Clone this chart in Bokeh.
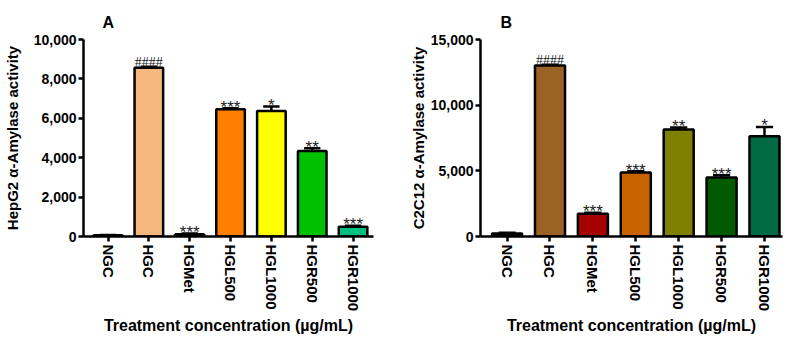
import numpy as np
from bokeh.plotting import figure
from bokeh.layouts import row
from bokeh.models import FixedTicker, NumeralTickFormatter, Range1d, ColumnDataSource
from bokeh.embed import file_html
from bokeh.resources import INLINE
from bokeh.core.properties import value

# Treatment groups shared by both cell lines
groups = ["NGC", "HGC", "HGMet", "HGL500", "HGL1000", "HGR500", "HGR1000"]

# HepG2 alpha-amylase activity (mean, SEM, significance marks)
hepg2_mean = [60, 8560, 120, 6460, 6370, 4340, 500]
hepg2_sem = [20, 60, 30, 50, 230, 140, 40]
hepg2_marks = ["", "####", "***", "***", "*", "**", "***"]
hepg2_colors = ["#000000", "#F5B77E", "#000000", "#FF7F00", "#FFFF00", "#00C000", "#00C080"]
hepg2_ticks = [0, 2000, 4000, 6000, 8000, 10000]

# C2C12 alpha-amylase activity
c2c12_mean = [230, 13020, 1740, 4880, 8140, 4500, 7640]
c2c12_sem = [60, 50, 70, 80, 150, 170, 700]
c2c12_marks = ["", "####", "***", "***", "**", "***", "*"]
c2c12_colors = ["#000000", "#9A6325", "#A60000", "#C86400", "#808000", "#005A00", "#006B45"]
c2c12_ticks = [0, 5000, 10000, 15000]

FONT = "Liberation Sans"


def panel(letter, ylabel, means, sems, marks, colors, yticks,
          border_left, border_right, xr, label_standoff, title_offset):
    x = np.arange(len(groups))
    means = np.array(means, dtype=float)
    sems = np.array(sems, dtype=float)
    tops = means + sems
    ymax = yticks[-1]

    p = figure(width=395, height=337, output_backend="svg", toolbar_location=None,
               x_range=Range1d(*xr), y_range=Range1d(0, ymax),
               min_border_left=border_left, min_border_right=border_right,
               min_border_top=39, min_border_bottom=99)
    p.outline_line_color = None
    p.xgrid.grid_line_color = None
    p.ygrid.grid_line_color = None

    # panel letter
    p.title.text = letter
    p.title.align = "left"
    p.title.offset = title_offset
    p.title.standoff = 18
    p.title.text_font = FONT
    p.title.text_font_size = "16px"
    p.title.text_font_style = "bold"
    p.title.text_color = "black"

    src = ColumnDataSource(dict(x=x, top=means, hi=tops, color=colors))
    # error bars (upper half only) drawn beneath the bars
    p.segment(x0="x", y0="top", x1="x", y1="hi", source=src, line_color="black", line_width=2.5)
    p.segment(x0=x - 0.2, y0=tops, x1=x + 0.2, y1=tops, line_color="black", line_width=2.5)
    p.vbar(x="x", top="top", bottom=0, width=0.7, source=src,
           fill_color="color", line_color="black", line_width=2.5)

    star_idx = [i for i, m in enumerate(marks) if m.startswith("*")]
    hash_idx = [i for i, m in enumerate(marks) if m.startswith("#")]
    p.text(x=[x[i] for i in star_idx], y=[tops[i] for i in star_idx],
           text=[marks[i] for i in star_idx], text_align="center",
           text_baseline="alphabetic", y_offset=-1,
           text_font=value(FONT), text_font_size="17px", text_color="#222222")
    p.text(x=[x[i] for i in hash_idx], y=[tops[i] for i in hash_idx],
           text=[marks[i] for i in hash_idx], text_align="center",
           text_baseline="alphabetic", y_offset=-4,
           text_font=value("Liberation Serif"), text_font_size="14px", text_color="#222222")

    for ax in (p.xaxis[0], p.yaxis[0]):
        ax.axis_line_width = 2.5
        ax.major_tick_line_width = 2.5
        ax.major_tick_out = 5
        ax.major_tick_in = 0
        ax.minor_tick_line_color = None
        ax.major_label_text_font = FONT
        ax.major_label_text_font_style = "bold"
        ax.major_label_text_color = "black"
        ax.axis_label_text_font = FONT
        ax.axis_label_text_font_style = "bold"
        ax.axis_label_text_color = "black"

    p.xaxis.ticker = FixedTicker(ticks=list(x))
    p.xaxis.major_label_overrides = {int(i): g for i, g in zip(x, groups)}
    p.xaxis.major_label_orientation = "vertical"
    p.xaxis.major_label_text_font_size = "15px"
    p.xaxis.major_label_standoff = 3
    p.xaxis.axis_label = "Treatment concentration (\u00b5g/mL)"
    p.xaxis.axis_label_text_font_size = "16px"
    p.xaxis.axis_label_standoff = 3

    p.yaxis.ticker = FixedTicker(ticks=yticks)
    p.yaxis.formatter = NumeralTickFormatter(format="0,0")
    p.yaxis.major_label_text_font_size = "14px"
    p.yaxis.major_label_standoff = 2
    p.yaxis.axis_label = ylabel
    p.yaxis.axis_label_text_font_size = "15px"
    p.yaxis.axis_label_standoff = label_standoff
    return p


pa = panel("A", "HepG2 \u03b1-Amylase activity", hepg2_mean, hepg2_sem, hepg2_marks,
           hepg2_colors, hepg2_ticks, 72, 22, (-0.6, 6.5), 10, 19)
pb = panel("B", "C2C12 \u03b1-Amylase activity", c2c12_mean, c2c12_sem, c2c12_marks,
           c2c12_colors, c2c12_ticks, 85, 8, (-0.62, 6.42), 1, 20)

layout = row(pa, pb)
open("out.html", "w").write(file_html(layout, INLINE))
